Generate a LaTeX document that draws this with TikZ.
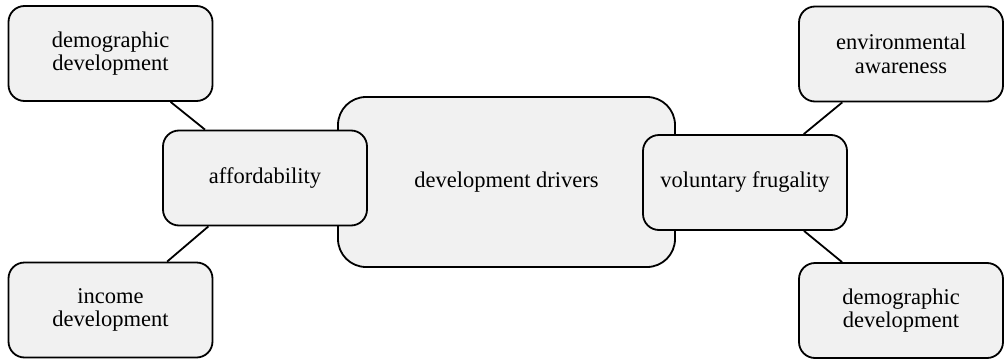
\documentclass[tikz,border=0pt]{standalone}
\usepackage{fontspec}
\setmainfont{Liberation Serif}
\newfontfamily\labelfont{Liberation Serif}
\begin{document}
\begin{tikzpicture}[x=1pt,y=-1pt,
  box/.style={draw=black, line width=1.8pt, fill=boxgray, rounded corners=16pt,
    align=center, inner sep=0pt, font=\labelfont\fontsize{22.5}{23.5}\selectfont},
  smallbox/.style={box, minimum width=204pt, minimum height=95pt},
  link/.style={draw=black, line width=1.8pt}]
\definecolor{boxgray}{RGB}{241,241,241}
\useasboundingbox (0,0) rectangle (1004,359);
% central node, drawn first so the side nodes overlap it
\node[box, rounded corners=28pt, minimum width=337pt, minimum height=170pt]
  (drivers) at (506.5,182) {development drivers};
\node[smallbox] (afford) at (265,178) {affordability};
\node[smallbox] (frugal) at (745,182.5) {voluntary frugality};
\node[smallbox] (demoL) at (110.5,53.5) {demographic\\development};
\node[smallbox] (income) at (110.5,310) {income\\development};
\node[smallbox] (enviro) at (901,54) {environmental\\awareness};
\node[smallbox] (demoR) at (901,310.5) {demographic\\development};
% connectors
\draw[link] (demoL) -- (afford);
\draw[link] (income) -- (afford);
\draw[link] (enviro) -- (frugal);
\draw[link] (demoR) -- (frugal);
\end{tikzpicture}
\end{document}
